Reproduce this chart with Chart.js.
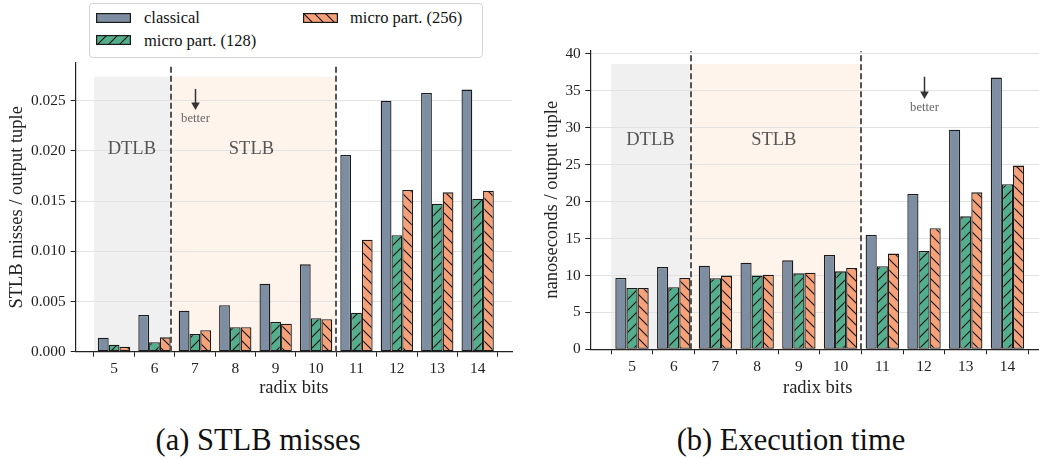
<!DOCTYPE html>
<html><head><meta charset="utf-8">
<script src="https://cdn.jsdelivr.net/npm/chart.js@4.4.1/dist/chart.umd.min.js"></script>
<style>
html,body{margin:0;padding:0;width:1039px;height:459px;overflow:hidden;background:#fff;font-family:"Liberation Serif",serif;}
body{position:relative;}
#c1{position:absolute;left:0;top:0;}
#c2{position:absolute;left:520px;top:0;}
.cap{position:absolute;font-size:30.5px;line-height:36px;color:#111;white-space:nowrap;transform:translate(-50%,-50%);}
#legend{position:absolute;left:89px;top:3px;width:394px;height:55px;border:1px solid #d4d4d4;border-radius:4px;background:#fff;box-sizing:border-box;}
.lt{position:absolute;font-size:16.5px;line-height:20px;color:#111;white-space:nowrap;}
.sw{position:absolute;}
</style></head>
<body>
<canvas id="c1" width="520" height="400" style="width:520px;height:400px"></canvas>
<canvas id="c2" width="530" height="400" style="width:530px;height:400px"></canvas>
<div class="cap" style="left:258px;top:440px">(a) STLB misses</div>
<div class="cap" style="left:791px;top:440px">(b) Execution time</div>
<div id="legend"></div>
<script>
// ---------------- data ----------------
const radixBits = [5, 6, 7, 8, 9, 10, 11, 12, 13, 14];
const seriesNames = ['classical', 'micro part. (128)', 'micro part. (256)'];
const stlbClassical = [0.00139, 0.00366, 0.00408, 0.00462, 0.00677, 0.0087, 0.01959, 0.0250, 0.02576, 0.0261];
const stlbMicro128  = [0.0007, 0.00094, 0.00176, 0.00243, 0.00296, 0.00333, 0.00388, 0.01159, 0.01474, 0.01524];
const stlbMicro256  = [0.0005, 0.00143, 0.00214, 0.00243, 0.00279, 0.00323, 0.01116, 0.0161, 0.01587, 0.01604];
const nsClassical = [9.66, 11.15, 11.33, 11.74, 12.05, 12.78, 15.49, 21.04, 29.75, 36.8];
const nsMicro128  = [8.30, 8.4, 9.62, 9.98, 10.29, 10.56, 11.24, 13.32, 18.01, 22.35];
const nsMicro256  = [8.30, 9.66, 9.98, 10.11, 10.38, 11.02, 12.96, 16.39, 21.26, 24.88];
const stlbTicks = [0, 0.005, 0.01, 0.015, 0.02, 0.025];
const nsTicks = [0, 5, 10, 15, 20, 25, 30, 35, 40];
const regionBounds = [4.5, 6.42, 10.5];       // DTLB: 4.5–6.42, STLB: 6.42–10.5
const regionLabels = ['DTLB', 'STLB'];
const regionLabelX = [5.44, 8.4];
const stlbRegionTop = 0.0274, nsRegionTop = 38.64;
const stlbLabelY = 0.0202, nsLabelY = 28.35;
const stlbArrow = {x: 7, y0: 0.02617, y1: 0.02407, ty: 0.02317};
const nsArrow = {x: 12, y0: 36.92, y1: 33.9, ty: 32.7};

// ---------------- styles ----------------
const FONT = '"Liberation Serif", serif';
const colClassical = 'rgb(125,142,163)';
const col128 = 'rgb(82,174,140)';
const col256 = 'rgb(246,161,120)';
const edge = '#1a1a1a';

function hatch(ctx, bg, dir, s) {
  s = s || 11;
  const c = document.createElement('canvas'); c.width = s; c.height = s;
  const g = c.getContext('2d');
  g.fillStyle = bg; g.fillRect(0, 0, s, s);
  g.strokeStyle = '#111'; g.lineWidth = 1.1; g.beginPath();
  if (dir === '/') {
    g.moveTo(-1, s + 1); g.lineTo(s + 1, -1);
    g.moveTo(-1, 1); g.lineTo(1, -1);
    g.moveTo(s - 1, s + 1); g.lineTo(s + 1, s - 1);
  } else {
    g.moveTo(-1, -1); g.lineTo(s + 1, s + 1);
    g.moveTo(s - 1, -1); g.lineTo(s + 1, 1);
    g.moveTo(-1, s - 1); g.lineTo(1, s + 1);
  }
  g.stroke();
  return ctx.createPattern(c, 'repeat');
}

function pts(vals) { return radixBits.map((x, i) => ({x: x, y: vals[i]})); }

function overlayPlugin(cfg) {
  return {
    id: 'overlay',
    beforeDraw(chart) {
      const {ctx, chartArea: a, scales: {x, y}} = chart;
      ctx.save();
      ctx.beginPath(); ctx.rect(a.left, a.top, a.right - a.left, a.bottom - a.top); ctx.clip();
      const fills = ['rgb(240,240,240)', 'rgb(254,244,236)'];
      for (let i = 0; i < 2; i++) {
        const x0 = x.getPixelForValue(regionBounds[i]), x1 = x.getPixelForValue(regionBounds[i + 1]);
        const yt = y.getPixelForValue(cfg.regionTop), yb = y.getPixelForValue(0);
        ctx.fillStyle = fills[i];
        ctx.fillRect(x0, yt, x1 - x0, yb - yt);
      }
      ctx.restore();
    },
    afterDatasetsDraw(chart) {
      const {ctx, chartArea: a, scales: {x, y}} = chart;
      ctx.save();
      // dashed separators
      ctx.strokeStyle = '#4d4d4d'; ctx.lineWidth = 1.9; ctx.setLineDash([6, 3]);
      [regionBounds[1], regionBounds[2]].forEach(v => {
        const px = Math.round(x.getPixelForValue(v));
        ctx.beginPath(); ctx.moveTo(px, a.bottom); ctx.lineTo(px, a.top + 1); ctx.stroke();
      });
      ctx.setLineDash([]);
      // region labels
      ctx.fillStyle = '#555'; ctx.font = '18.5px ' + FONT; ctx.textAlign = 'center'; ctx.textBaseline = 'middle';
      regionLabels.forEach((t, i) => ctx.fillText(t, x.getPixelForValue(regionLabelX[i]), y.getPixelForValue(cfg.labelY)));
      // arrow "better"
      const ar = cfg.arrow;
      const ax = Math.round(x.getPixelForValue(ar.x)) + 0.5;
      const ya = y.getPixelForValue(ar.y0), yb = y.getPixelForValue(ar.y1);
      ctx.strokeStyle = '#333'; ctx.fillStyle = '#333'; ctx.lineWidth = 1.5;
      ctx.beginPath(); ctx.moveTo(ax, ya); ctx.lineTo(ax, yb - 6); ctx.stroke();
      ctx.beginPath(); ctx.moveTo(ax - 4.3, yb - 7.5); ctx.lineTo(ax + 4.3, yb - 7.5); ctx.lineTo(ax, yb); ctx.closePath(); ctx.fill();
      ctx.fillStyle = '#666'; ctx.font = '12.7px ' + FONT;
      ctx.fillText('better', ax, y.getPixelForValue(ar.ty));
      ctx.restore();
    }
  };
}

function makeChart(canvas, cfg) {
  const ctx = canvas.getContext('2d');
  const common = {borderColor: edge, borderWidth: 1.3, borderSkipped: false, categoryPercentage: 0.8, barPercentage: 1.0};
  return new Chart(ctx, {
    type: 'bar',
    data: {
      datasets: [
        Object.assign({label: seriesNames[0], data: pts(cfg.series[0]), backgroundColor: colClassical}, common),
        Object.assign({label: seriesNames[1], data: pts(cfg.series[1]), backgroundColor: hatch(ctx, col128, '/')}, common),
        Object.assign({label: seriesNames[2], data: pts(cfg.series[2]), backgroundColor: hatch(ctx, col256, '\\')}, common)
      ]
    },
    options: {
      responsive: false, animation: false, devicePixelRatio: 1,
      layout: {padding: {left: 0, top: cfg.top, right: cfg.right, bottom: 0}},
      plugins: {legend: {display: false}, tooltip: {enabled: false}},
      scales: {
        x: {
          type: 'linear', bounds: 'data', min: cfg.xmin, max: cfg.xmax, offset: false,
          afterBuildTicks: s => { s.ticks = radixBits.map(v => ({value: v})); },
          afterFit: s => { s.height = cfg.xh; },
          grid: {drawOnChartArea: false, tickLength: 5, color: '#222', lineWidth: 1},
          border: {color: '#222', width: 1.2},
          ticks: {font: {family: FONT, size: 15.4}, color: '#222', padding: 3, maxRotation: 0, autoSkip: false, callback: v => String(v)},
          title: {display: true, text: 'radix bits', font: {family: FONT, size: 18.5}, color: '#222', padding: {top: 0, bottom: 1}}
        },
        y: {
          type: 'linear', min: 0, max: cfg.ymax,
          afterBuildTicks: s => { s.ticks = cfg.yticks.map(v => ({value: v})); },
          afterFit: s => { s.width = cfg.yw; },
          grid: {color: 'rgb(226,226,226)', lineWidth: 1, tickLength: 5, tickColor: '#222', tickWidth: 1},
          border: {color: '#222', width: 1.2},
          ticks: {font: {family: FONT, size: 15.4}, color: '#222', padding: cfg.ypad, callback: cfg.fmt},
          title: {display: true, text: cfg.ytitle, font: {family: FONT, size: 18.5}, color: '#222', padding: {top: cfg.ytp, bottom: 0}}
        }
      }
    },
    plugins: [overlayPlugin(cfg)]
  });
}

makeChart(document.getElementById('c1'), {
  series: [stlbClassical, stlbMicro128, stlbMicro256],
  top: 63, right: 8, xh: 48.3, yw: 75.7, ypad: 5, ytp: 5.9,
  xmin: 4.05, xmax: 14.85, ymax: 0.02875, yticks: stlbTicks,
  fmt: v => Number(v).toFixed(3), ytitle: 'STLB misses / output tuple',
  regionTop: stlbRegionTop, labelY: stlbLabelY, arrow: stlbArrow
});
makeChart(document.getElementById('c2'), {
  series: [nsClassical, nsMicro128, nsMicro256],
  top: 50.3, right: 5, xh: 50.7, yw: 70.3, ypad: 4.5, ytp: 20.9,
  xmin: 4.0, xmax: 14.9, ymax: 40.5, yticks: nsTicks,
  fmt: v => String(v), ytitle: 'nanoseconds / output tuple',
  regionTop: nsRegionTop, labelY: nsLabelY, arrow: nsArrow
});

// ---------------- legend ----------------
const legend = document.getElementById('legend');
const legendItems = [
  {name: seriesNames[0], fill: colClassical, dir: null, sx: 6, sy: 9, tx: 54, ty: 3.5},
  {name: seriesNames[1], fill: col128, dir: '/', sx: 6, sy: 30.5, tx: 54, ty: 26.5},
  {name: seriesNames[2], fill: col256, dir: '\\', sx: 213, sy: 9, tx: 260, ty: 3.5}
];
legendItems.forEach(it => {
  const c = document.createElement('canvas');
  c.width = 35; c.height = 10; c.className = 'sw';
  c.style.left = it.sx + 'px'; c.style.top = it.sy + 'px';
  const g = c.getContext('2d');
  g.fillStyle = it.dir ? hatch(g, it.fill, it.dir, 11) : it.fill;
  g.fillRect(0, 0, 35, 10);
  g.strokeStyle = edge; g.lineWidth = 1.2; g.strokeRect(0.6, 0.6, 33.8, 8.8);
  legend.appendChild(c);
  const t = document.createElement('div');
  t.className = 'lt'; t.textContent = it.name;
  t.style.left = it.tx + 'px'; t.style.top = it.ty + 'px';
  legend.appendChild(t);
});
</script>
</body></html>
